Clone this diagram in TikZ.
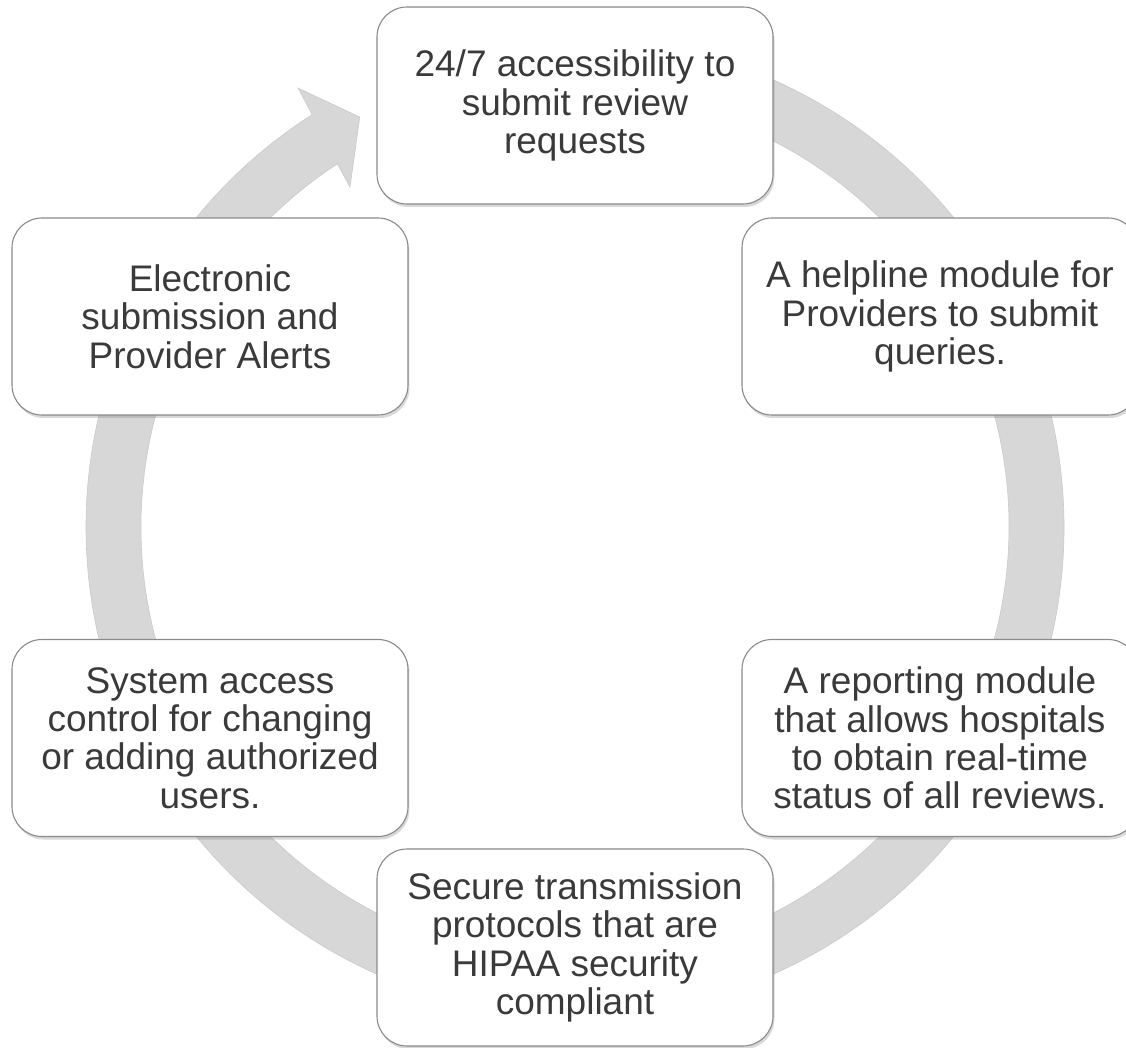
\documentclass[tikz,border=0pt]{standalone}
\usepackage{fontspec}
\setmainfont{Liberation Sans}
\usetikzlibrary{shadows}
\definecolor{ringgray}{HTML}{D7D7D7}
\definecolor{ringedge}{HTML}{CACACA}
\definecolor{boxedge}{HTML}{8A8A8A}
\definecolor{txt}{HTML}{3A3A3A}
\begin{document}
\begin{tikzpicture}[x=1pt,y=1pt,
  cyclebox/.style={draw=boxedge, line width=1.1pt, fill=white, rounded corners=30pt,
    minimum width=396pt, minimum height=197pt, align=center, text=txt,
    font=\fontsize{37}{38.3}\selectfont,
    drop shadow={opacity=0.3, shadow xshift=1.5pt, shadow yshift=-3pt}}]
\clip (-575,-521) rectangle (551,527);
% circular arrow
\filldraw[fill=ringgray, draw=ringedge, line width=0.6pt]
  (95:489) arc[start angle=95, end angle=-237.5, radius=489]
  -- (122.25:519) -- (117.7:463) -- (123.5:407.7) -- (-236.8:434)
  arc[start angle=-236.8, end angle=95, radius=434] -- cycle;
% boxes
\node[cyclebox] (n1) at (0,421.5) {24/7 accessibility to\\submit review\\requests};
\node[cyclebox] (n2) at (365,210.5) {A helpline module for\\Providers to submit\\queries.};
\node[cyclebox] (n3) at (365,-211) {A reporting module\\that allows hospitals\\to obtain real-time\\status of all reviews.};
\node[cyclebox] (n4) at (0,-420.5) {Secure transmission\\protocols that are\\HIPAA security\\compliant};
\node[cyclebox] (n5) at (-365,-211) {System access\\control for changing\\or adding authorized\\users.};
\node[cyclebox] (n6) at (-365,210.5) {Electronic\\submission and\\Provider Alerts};
\end{tikzpicture}
\end{document}
